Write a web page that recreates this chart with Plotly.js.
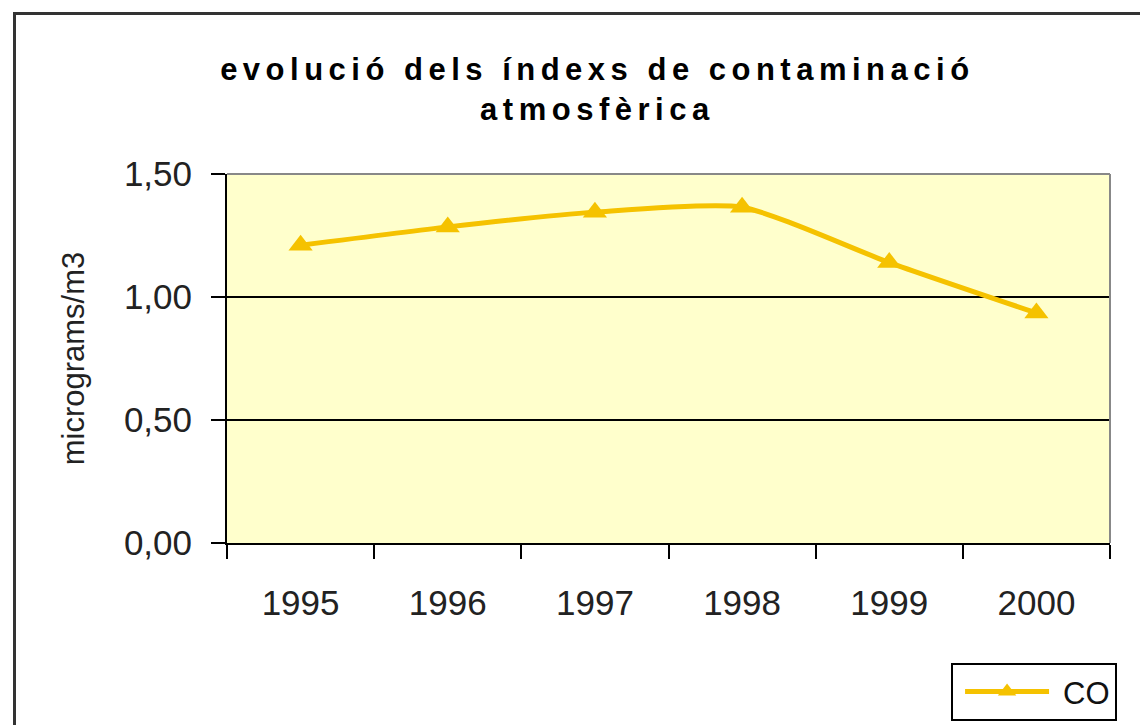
<!DOCTYPE html>
<html>
<head>
<meta charset="utf-8">
<script src="https://cdn.plot.ly/plotly-3.0.1.min.js"></script>
<style>
html, body { margin:0; padding:0; background:#fff; overflow:hidden; }
#wrap { position:relative; width:1140px; height:725px; }
#chart { width:1140px; height:725px; }
#frame { position:absolute; left:13px; top:12px; width:1140px; height:740px; border:3px solid #333; pointer-events:none; box-sizing:border-box; }
.gtitle { letter-spacing:5.5px; }
</style>
</head>
<body>
<div id="wrap">
<div id="chart"></div>
<div id="frame"></div>
</div>
<script>
const years = ['1995', '1996', '1997', '1998', '1999', '2000'];
const co = [1.21, 1.285, 1.345, 1.365, 1.14, 0.935];
const yTickVals = [0, 0.5, 1.0, 1.5];
const yTickText = ['0,00', '0,50', '1,00', '1,50'];

const gold = '#F5C200';
const trace = {
  type: 'scatter', mode: 'lines+markers', name: 'CO',
  x: years, y: co,
  line: { color: gold, width: 5, shape: 'spline', smoothing: 0.6 },
  marker: { symbol: 'triangle-up', size: 21, color: gold }
};

const layout = {
  width: 1140, height: 725,
  paper_bgcolor: '#ffffff', plot_bgcolor: '#FFFFCC',
  margin: { l: 227, r: 30, t: 174, b: 182, autoexpand: false },
  font: { family: 'Liberation Sans, Arial, sans-serif', color: '#111' },
  title: {
    text: 'evolució dels índexs de contaminació<br>atmosfèrica',
    font: { family: 'Liberation Sans, Arial, sans-serif', size: 31, weight: 'bold', color: '#000' },
    xref: 'container', x: 0.524, xanchor: 'center',
    yref: 'container', y: 0.89, yanchor: 'top'
  },
  xaxis: {
    type: 'category', range: [-0.5, 5.5],
    tickson: 'boundaries', ticks: 'outside', ticklen: 14, tickwidth: 2, tickcolor: '#000',
    showline: true, linecolor: '#000', linewidth: 2, showgrid: false, zeroline: false,
    tickfont: { size: 35, color: '#222' }, ticklabelstandoff: 28, fixedrange: true
  },
  yaxis: {
    range: [0, 1.5], tickvals: yTickVals, ticktext: yTickText,
    ticks: 'outside', ticklen: 14, tickwidth: 2, tickcolor: '#000',
    showline: true, linecolor: '#000', linewidth: 2,
    showgrid: true, gridcolor: '#000', gridwidth: 2, zeroline: false,
    tickfont: { size: 35, color: '#222' }, ticklabelstandoff: 12,
    title: { text: 'micrograms/m3', font: { size: 31, color: '#222' }, standoff: 30 },
    fixedrange: true
  },
  shapes: [
    { type: 'line', xref: 'paper', yref: 'paper', x0: 0, x1: 1, y0: 1, y1: 1, line: { color: '#888', width: 2 }, layer: 'above' },
    { type: 'line', xref: 'paper', yref: 'paper', x0: 1, x1: 1, y0: 0, y1: 1, line: { color: '#888', width: 2 }, layer: 'above' }
  ],
  showlegend: true,
  legend: {
    x: 1.008, xanchor: 'right', y: -0.325, yanchor: 'top',
    bgcolor: '#fff', bordercolor: '#000', borderwidth: 2,
    itemwidth: 100,
    font: { size: 31, color: '#111' }
  }
};

Plotly.newPlot('chart', [trace], layout, { displayModeBar: false, staticPlot: true }).then(function (gd) {
  // lengthen the legend line sample to match the reference legend key
  gd.querySelectorAll('.legendlines path').forEach(function (p) { p.setAttribute('d', 'M12,0h84'); });
  gd.querySelectorAll('.legendpoints path').forEach(function (p) { p.setAttribute('transform', 'translate(54,0)'); });
});
</script>
</body>
</html>
